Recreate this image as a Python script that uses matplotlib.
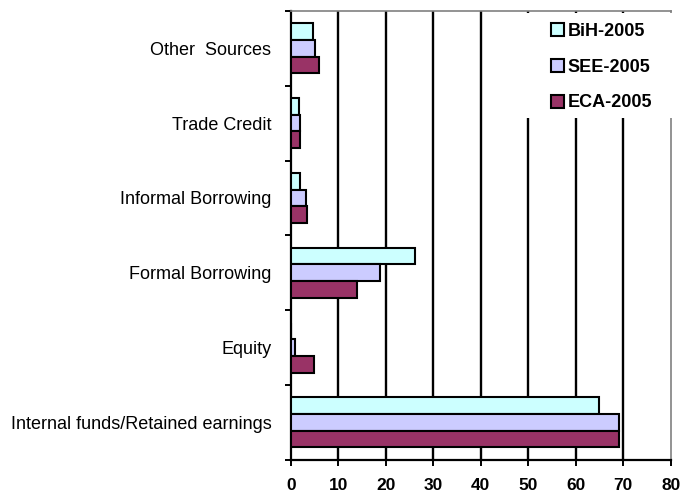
import matplotlib.pyplot as plt
import numpy as np
from matplotlib.patches import Rectangle

plt.rcParams['font.family'] = ['Liberation Sans', 'DejaVu Sans']

# financing sources, bottom to top
categories = ['Internal funds/Retained earnings', 'Equity', 'Formal Borrowing',
              'Informal Borrowing', 'Trade Credit', 'Other  Sources']
bih = [64.8, 0.0, 26.2, 2.0, 1.8, 4.7]
see = [69.2, 0.9, 18.7, 3.3, 2.0, 5.0]
eca = [69.2, 4.9, 13.9, 3.5, 2.0, 5.9]
series = ['BiH-2005', 'SEE-2005', 'ECA-2005']
colors = ['#CCFFFF', '#CCCCFF', '#993366']

fig = plt.figure(figsize=(6.81, 4.95), dpi=100)
ax = fig.add_axes([0.427, 0.071, 0.558, 0.907])

y = np.arange(len(categories))
h = 0.223
for k, (vals, name, c) in enumerate(zip([bih, see, eca], series, colors)):
    ax.barh(y + (1 - k) * h, vals, height=h, color=c, edgecolor='black',
            linewidth=1.5, label=name, zorder=3)

ax.set_xlim(0, 80)
ax.set_ylim(-0.5, len(categories) - 0.5)

# vertical gridlines
for xv in range(10, 80, 10):
    ax.axvline(xv, color='black', linewidth=1.7, zorder=1)

ax.set_xticks(range(0, 81, 10))
ax.set_xticklabels([str(v) for v in range(0, 81, 10)], fontsize=12.5, fontweight='bold')
ax.tick_params(axis='x', direction='out', length=4, width=1.4, pad=9)

ax.set_yticks(np.arange(-0.5, len(categories), 1.0))
ax.set_yticklabels([])
ax.set_yticks(y, minor=True)
ax.set_yticklabels(categories, minor=True, fontsize=13)
ax.tick_params(axis='y', which='major', direction='out', length=4, width=1.4)
ax.tick_params(axis='y', which='minor', length=0, pad=14)

for s in ['left', 'bottom']:
    ax.spines[s].set_color('black')
    ax.spines[s].set_linewidth(1.6)
for s in ['top', 'right']:
    ax.spines[s].set_color('#808080')
    ax.spines[s].set_linewidth(1.2)

# white box behind the legend, hiding the gridlines there
ax.add_patch(Rectangle((0.611, 0.762), 0.395, 0.234, transform=ax.transAxes,
                       facecolor='white', edgecolor='none', zorder=4, clip_on=False))

leg = ax.legend(loc='upper left', bbox_to_anchor=(0.685, 0.974), frameon=False,
                prop={'weight': 'bold', 'size': 13}, handlelength=0.72,
                handleheight=0.72, handletextpad=0.2, labelspacing=1.05,
                borderpad=0.0, borderaxespad=0.0)
for p in leg.get_patches():
    p.set_linewidth(1.5)
leg.set_zorder(5)

fig.savefig('out.png', dpi=100)
